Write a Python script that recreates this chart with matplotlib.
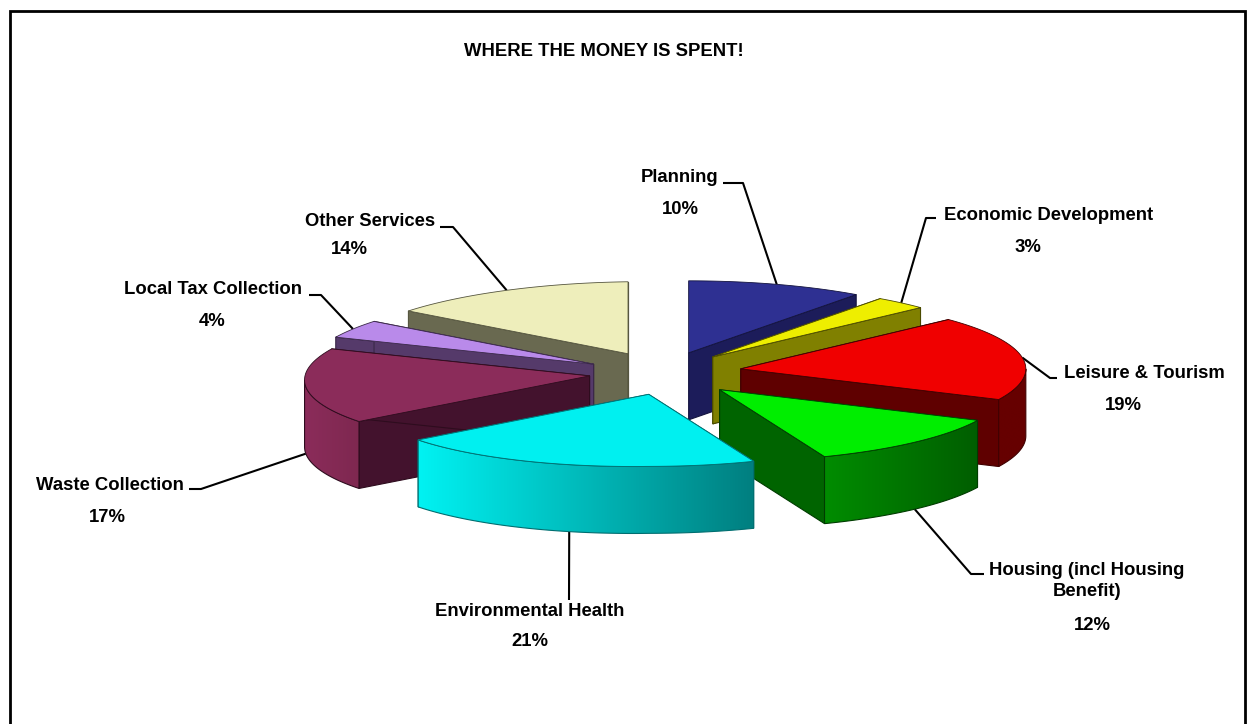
"""Exploded 3D pie of council spending, drawn by hand on a pixel-sized axes."""
import numpy as np
import matplotlib
matplotlib.use("Agg")
import matplotlib.pyplot as plt
from matplotlib.colors import to_rgb
from matplotlib.patches import Polygon

plt.rcParams["font.family"] = ["Liberation Sans", "DejaVu Sans"]

title = "WHERE THE MONEY IS SPENT!"
categories = ["Planning", "Economic Development", "Leisure & Tourism",
              "Housing (incl Housing\nBenefit)", "Environmental Health",
              "Waste Collection", "Local Tax Collection", "Other Services"]
values = [10, 3, 19, 12, 21, 17, 4, 14]

top_colors = ["#2E3092", "#EEEE00", "#F00000", "#00EE00",
              "#00F0F0", "#8B2C5A", "#B98AEA", "#EEEEBB"]
cut_colors = ["#1C1C5A", "#808000", "#5F0000", "#006400",
              "#00A0A0", "#43122D", "#553A6A", "#696950"]
wall_left = ["#1C1C5A", "#808000", "#660000", "#008C00",
             "#00F2F2", "#8B2C5A", "#553A6A", "#696950"]
wall_right = ["#1C1C5A", "#808000", "#660000", "#005E00",
              "#007F80", "#7E2850", "#553A6A", "#696950"]
edge_colors = ["#14143F", "#4A4A00", "#400000", "#003C00",
               "#006E70", "#2E0C1E", "#3A2848", "#55553F"]

# pie geometry, in pixels
CX, CY = 664, 372
RX, RY = 285, 72
EXPLODE = 0.28
DEPTH = 67
LEFT_DROP = 4  # the source's perspective sags the left of the ellipse a little

# small per-slice corrections for that same perspective
apex_nudge = [(0, 0), (-4, 0), (-2, 0), (1, 3), (7, 3), (5, 2), (-3, 3), (-2, 0)]

# label layout: text centre, percent centre, leader elbow, leader end
name_pos = [(680, 178), (1049, 216), (1144, 373), (1087, 581),
            (530, 612), (110, 486), (213, 290), (370, 222)]
pct_pos = [(680, 209), (1028, 248), (1123, 405), (1092, 626),
           (530, 642), (107, 517), (212, 321), (349, 250)]
elbow_pos = [(743, 183), (926, 218), (1050, 378), (971, 574),
             None, (201, 489), (321, 295), (453, 227)]
leader_end = [(723, 183), (936, 218), (1057, 378), (984, 574),
              (569, 600), (189, 489), (309, 295), (440, 227)]


def rim(theta, apex):
    """Points of the top ellipse for angles in degrees, clockwise from north."""
    t = np.radians(theta)
    sag = LEFT_DROP * np.clip(-np.sin(t), 0, None)
    return np.column_stack([apex[0] + RX * np.sin(t), apex[1] - RY * np.cos(t) + sag])


def draw_slice(ax, i, t0, t1, apex, z):
    arc = rim(np.linspace(t0, t1, 80), apex)
    drop = np.array([0, DEPTH])
    ap = np.array(apex, dtype=float)

    # the two cut faces
    for end in (arc[0], arc[-1]):
        quad = [ap, end, end + drop, ap + drop]
        ax.add_patch(Polygon(quad, fc=cut_colors[i], ec=edge_colors[i], lw=0.8, zorder=z))

    # outer wall, only the front half of the ellipse shows
    a0, a1 = max(t0, 90), min(t1, 270)
    if a1 > a0:
        front = rim(np.linspace(a0, a1, 80), apex)
        wall = np.vstack([front, (front + drop)[::-1]])
        patch = Polygon(wall, fc="none", ec=edge_colors[i], lw=0.8, zorder=z + 0.2)
        ax.add_patch(patch)
        mix = np.linspace(0, 1, 128)[None, :, None]
        grad = (1 - mix) * np.array(to_rgb(wall_left[i])) + mix * np.array(to_rgb(wall_right[i]))
        im = ax.imshow(grad, extent=(wall[:, 0].min(), wall[:, 0].max(),
                                     wall[:, 1].max(), wall[:, 1].min()),
                       aspect="auto", zorder=z + 0.1)
        im.set_clip_path(patch)

    # top face
    ax.add_patch(Polygon(np.vstack([ap, arc]), fc=top_colors[i], ec=edge_colors[i],
                         lw=0.6, joinstyle="round", zorder=z + 0.3))


def main():
    fig = plt.figure(figsize=(12.47, 7.24), dpi=100)
    ax = fig.add_axes([0, 0, 1, 1])

    # slice angles and exploded apex positions come from the values
    edges = np.concatenate([[0], np.cumsum(values)]) / sum(values) * 360
    mids = (edges[:-1] + edges[1:]) / 2
    apexes = [(CX + EXPLODE * RX * np.sin(np.radians(m)) + apex_nudge[i][0],
               CY - EXPLODE * RY * np.cos(np.radians(m)) + apex_nudge[i][1])
              for i, m in enumerate(mids)]

    # paint from the back of the pie to the front
    for n, i in enumerate(np.argsort([a[1] for a in apexes])):
        draw_slice(ax, i, edges[i], edges[i + 1], apexes[i], 2 + n)

    # leaders start on the rim, at the foot of the wall for front slices
    for i, m in enumerate(mids):
        start = rim(np.array([m]), apexes[i])[0]
        if np.cos(np.radians(m)) < 0:
            start = start + [0, DEPTH]
        pts = [tuple(start)]
        if elbow_pos[i] is not None:
            pts.append(elbow_pos[i])
        pts.append(leader_end[i])
        xs, ys = zip(*pts)
        ax.plot(xs, ys, color="black", lw=1.5, zorder=1, solid_capstyle="butt")

        ax.text(*name_pos[i], categories[i], ha="center", va="center", fontsize=13.3,
                fontweight="bold", linespacing=1.3, zorder=20)
        ax.text(*pct_pos[i], f"{values[i]}%", ha="center", va="center", fontsize=13.3,
                fontweight="bold", zorder=20)

    ax.text(604, 52, title, ha="center", va="center", fontsize=13.3, fontweight="bold")

    # chart frame, the bottom edge is cut off in the source
    ax.plot([10, 10, 1245, 1245], [724, 11, 11, 724], color="black", lw=2, zorder=30,
            solid_joinstyle="miter")

    ax.set_xlim(0, 1247)
    ax.set_ylim(724, 0)
    ax.axis("off")
    fig.savefig("out.png", dpi=100, facecolor="white")


if __name__ == "__main__":
    main()
